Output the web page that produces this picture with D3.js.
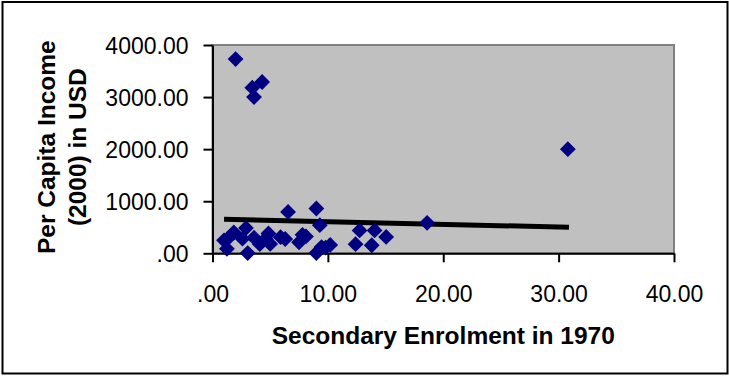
<!DOCTYPE html>
<html>
<head>
<meta charset="utf-8">
<script src="https://cdn.jsdelivr.net/npm/d3@7"></script>
<style>
  html, body { margin: 0; padding: 0; background: #ffffff; }
  svg { display: block; }
  text { font-family: "Liberation Sans", Arial, Helvetica, sans-serif; fill: #000; }
</style>
</head>
<body>
<svg id="chart" width="729" height="376"></svg>
<script>
// Secondary enrolment in 1970 (x) against per capita income in 2000 (y)
const enrolment = [1.0, 1.25, 1.4, 1.85, 2.0, 2.6, 2.9, 3.05, 3.45, 3.6, 3.6, 4.1, 4.3, 4.6, 4.85, 5.0,
                   5.9, 6.3, 6.55, 7.5, 7.8, 8.1, 9.0, 9.0, 9.3, 9.45, 9.8, 10.2, 12.4, 12.75, 13.8,
                   14.05, 15.05, 18.6, 30.8];
const income    = [250, 85, 300, 400, 3730, 280, 485, 5, 3180, 3000, 300, 175, 3290, 280, 380, 180,
                   310, 275, 795, 210, 355, 325, 860, 5, 540, 120, 110, 160, 175, 440, 155,
                   440, 315, 585, 2000];

// Linear trendline end points (x, fitted income)
const trendX = [1.0, 30.9];
const trendY = [655, 500];

const xTicks = [0, 10, 20, 30, 40];
const yTicks = [0, 1000, 2000, 3000, 4000];

const xTitle = "Secondary Enrolment in 1970";
const yTitleLines = ["Per Capita Income", "(2000) in USD"];

const svg = d3.select("#chart");

// outer chart frame
svg.append("rect")
  .attr("x", 2.5).attr("y", 2)
  .attr("width", 725).attr("height", 371.5)
  .attr("fill", "#ffffff").attr("stroke", "#000").attr("stroke-width", 2);

const plot = { left: 212.5, right: 674, top: 45, bottom: 253.3 };

const x = d3.scaleLinear().domain([0, 40]).range([plot.left, plot.right]);
const y = d3.scaleLinear().domain([0, 4000]).range([plot.bottom, plot.top]);

const fmt = v => {
  const s = d3.format(".2f")(v);
  return s.startsWith("0.") ? s.slice(1) : s;
};

// plot area
svg.append("rect")
  .attr("x", plot.left).attr("y", plot.top)
  .attr("width", plot.right - plot.left).attr("height", plot.bottom - plot.top)
  .attr("fill", "#c0c0c0").attr("stroke", "#808080").attr("stroke-width", 2);

// axes
const xAxis = svg.append("g")
  .attr("transform", `translate(0,${plot.bottom})`)
  .call(d3.axisBottom(x).tickValues(xTicks).tickSize(9).tickSizeOuter(0).tickFormat(fmt));
const yAxis = svg.append("g")
  .attr("transform", `translate(${plot.left},0)`)
  .call(d3.axisLeft(y).tickValues(yTicks).tickSize(9).tickSizeOuter(0).tickFormat(fmt));

[xAxis, yAxis].forEach(g => {
  g.select(".domain").attr("stroke", "#000").attr("stroke-width", 2);
  g.selectAll(".tick line").attr("stroke", "#000").attr("stroke-width", 2);
  g.selectAll(".tick text")
    .style("font-family", '"Liberation Sans", Arial, sans-serif')
    .style("font-size", "23px").attr("fill", "#000");
});
xAxis.selectAll(".tick text").attr("y", 32).attr("dy", "0.71em").attr("y", 32);
xAxis.selectAll(".tick text").attr("dy", null).attr("y", 49);
yAxis.selectAll(".tick text").attr("x", -24).attr("dy", "0.35em");

// trendline
svg.append("line")
  .attr("x1", x(trendX[0])).attr("y1", y(trendY[0]))
  .attr("x2", x(trendX[1])).attr("y2", y(trendY[1]))
  .attr("stroke", "#000").attr("stroke-width", 5);

// data points as diamonds
const diamond = d3.symbol().type(d3.symbolSquare).size(125);
svg.append("g").selectAll("path")
  .data(d3.range(enrolment.length))
  .join("path")
  .attr("d", diamond)
  .attr("transform", i => `translate(${x(enrolment[i])},${y(income[i])}) rotate(45)`)
  .attr("fill", "#000080");

// axis titles
svg.append("text")
  .attr("x", (plot.left + plot.right) / 2).attr("y", 344)
  .attr("text-anchor", "middle")
  .style("font-size", "24.5px").style("font-weight", "bold")
  .text(xTitle);

const yTitle = svg.append("text")
  .attr("transform", `translate(55,${(plot.top + plot.bottom) / 2 - 2}) rotate(-90)`)
  .attr("text-anchor", "middle")
  .style("font-size", "24.5px").style("font-weight", "bold");
yTitle.selectAll("tspan")
  .data(yTitleLines)
  .join("tspan")
  .attr("x", 0)
  .attr("dy", (d, i) => i === 0 ? 0 : 31)
  .text(d => d);
</script>
</body>
</html>
